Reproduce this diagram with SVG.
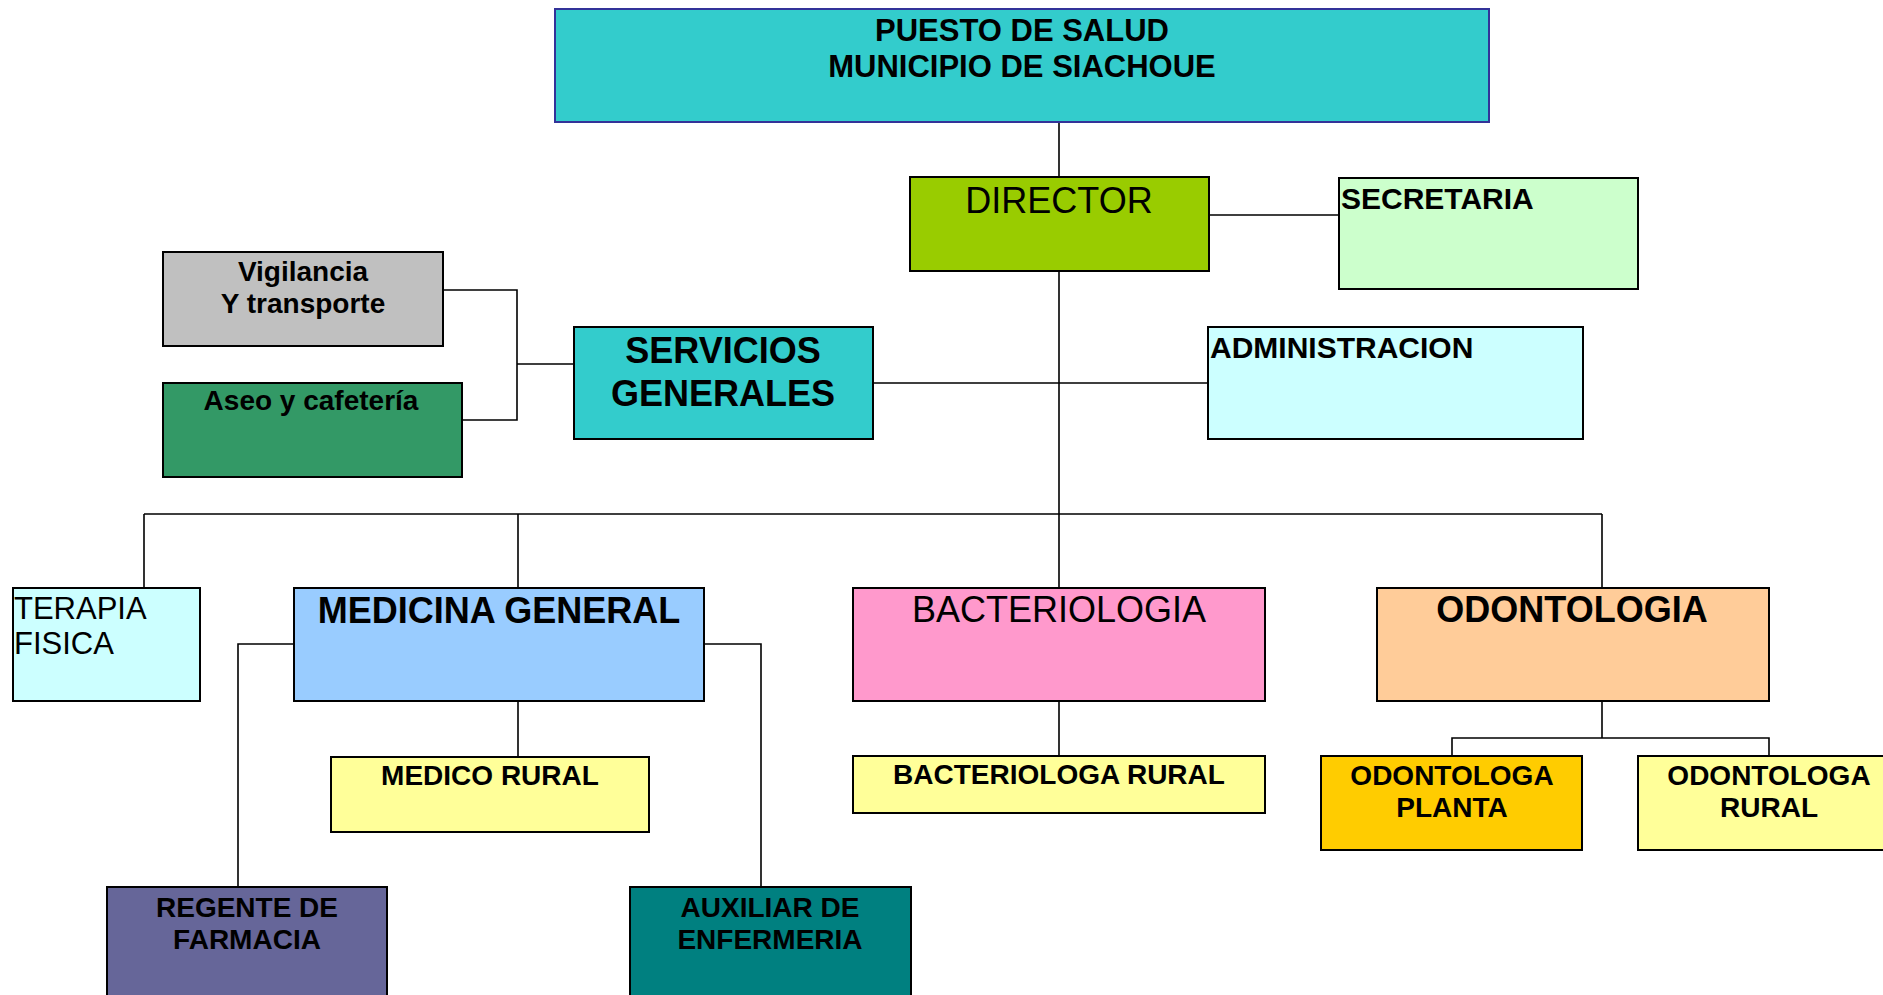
<svg xmlns="http://www.w3.org/2000/svg" width="1883" height="995" viewBox="0 0 1883 995">
<style>
rect{stroke:#000;stroke-width:2}
.c{fill:none;stroke:#000;stroke-width:1.6}
text{font-family:"Liberation Sans",Arial,sans-serif;fill:#000}
.b{font-weight:bold}
.m{text-anchor:middle}
</style>
<rect x="0" y="0" width="1883" height="995" fill="#fff" style="stroke:none"/>
<g id="connectors">
<path class="c" d="M1059 122V177M1209 215H1339M1059 271V588M873 383H1208M144 514H1602M144 514V588M518 514V588M1602 514V588M443 290H517V420H462M517 364H574M294 644H238V887M704 644H761V887M518 701V757M1059 701V756M1602 701V738M1452 756V738H1769V756"/>
</g>
<g id="n-puesto"><rect x="555" y="9" width="934" height="113" fill="#33CCCC" style="stroke:#333399"/><text class="b m" x="1022" y="41" font-size="31">PUESTO DE SALUD</text><text class="b m" x="1022" y="77" font-size="31">MUNICIPIO DE SIACHOUE</text></g>
<g id="n-director"><rect x="910" y="177" width="299" height="94" fill="#99CC00"/><text class="m" x="1059" y="213" font-size="36">DIRECTOR</text></g>
<g id="n-secretaria"><rect x="1339" y="178" width="299" height="111" fill="#CCFFCC"/><text class="b" x="1341" y="209" font-size="30">SECRETARIA</text></g>
<g id="n-vigilancia"><rect x="163" y="252" width="280" height="94" fill="#C0C0C0"/><text class="b m" x="303" y="281" font-size="28">Vigilancia</text><text class="b m" x="303" y="313" font-size="28">Y transporte</text></g>
<g id="n-aseo"><rect x="163" y="383" width="299" height="94" fill="#339966"/><text class="b m" x="311" y="410" font-size="28">Aseo y cafetería</text></g>
<g id="n-servicios"><rect x="574" y="327" width="299" height="112" fill="#33CCCC"/><text class="b m" x="723" y="363" font-size="36">SERVICIOS</text><text class="b m" x="723" y="406" font-size="36">GENERALES</text></g>
<g id="n-administracion"><rect x="1208" y="327" width="375" height="112" fill="#CCFFFF"/><text class="b" x="1210" y="358" font-size="30">ADMINISTRACION</text></g>
<g id="n-terapia"><rect x="13" y="588" width="187" height="113" fill="#CCFFFF"/><text x="14" y="619" font-size="31">TERAPIA</text><text x="14" y="654" font-size="31">FISICA</text></g>
<g id="n-medicina"><rect x="294" y="588" width="410" height="113" fill="#99CCFF"/><text class="b m" x="499" y="623" font-size="36">MEDICINA GENERAL</text></g>
<g id="n-bacteriologia"><rect x="853" y="588" width="412" height="113" fill="#FF99CC"/><text class="m" x="1059" y="622" font-size="36">BACTERIOLOGIA</text></g>
<g id="n-odontologia"><rect x="1377" y="588" width="392" height="113" fill="#FFCC99"/><text class="b m" x="1572" y="622" font-size="36">ODONTOLOGIA</text></g>
<g id="n-medico-rural"><rect x="331" y="757" width="318" height="75" fill="#FFFF99"/><text class="b m" x="490" y="785" font-size="28">MEDICO RURAL</text></g>
<g id="n-bacteriologa-rural"><rect x="853" y="756" width="412" height="57" fill="#FFFF99"/><text class="b m" x="1059" y="784" font-size="28">BACTERIOLOGA RURAL</text></g>
<g id="n-odontologa-planta"><rect x="1321" y="756" width="261" height="94" fill="#FFCC00"/><text class="b m" x="1452" y="785" font-size="28">ODONTOLOGA</text><text class="b m" x="1452" y="817" font-size="28">PLANTA</text></g>
<g id="n-odontologa-rural"><rect x="1638" y="756" width="262" height="94" fill="#FFFF99"/><text class="b m" x="1769" y="785" font-size="28">ODONTOLOGA</text><text class="b m" x="1769" y="817" font-size="28">RURAL</text></g>
<g id="n-regente"><rect x="107" y="887" width="280" height="120" fill="#666699"/><text class="b m" x="247" y="917" font-size="28">REGENTE DE</text><text class="b m" x="247" y="949" font-size="28">FARMACIA</text></g>
<g id="n-auxiliar"><rect x="630" y="887" width="281" height="120" fill="#008080"/><text class="b m" x="770" y="917" font-size="28">AUXILIAR DE</text><text class="b m" x="770" y="949" font-size="28">ENFERMERIA</text></g>
</svg>
